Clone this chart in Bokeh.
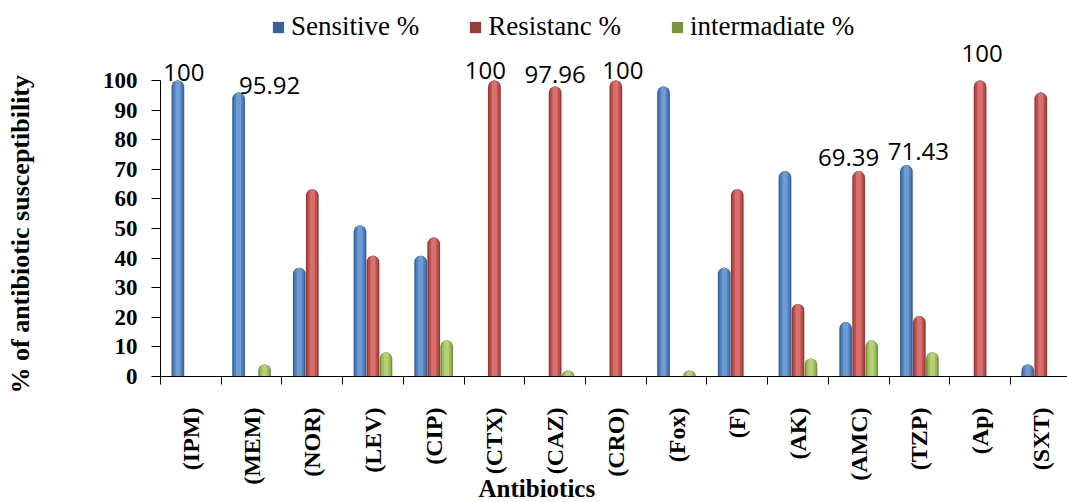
import numpy as np
from bokeh.plotting import figure
from bokeh.models import (ColumnDataSource, Range1d, FixedTicker, Legend, LegendItem,
                          Title, LinearAxis)
from bokeh.core.properties import value
from bokeh.embed import file_html
from bokeh.resources import INLINE

# ---------------- data ----------------
antibiotics = ["(IPM)", "(MEM)", "(NOR)", "(LEV)", "(CIP)", "(CTX)", "(CAZ)", "(CRO)",
               "(Fox)", "(F)", "(AK)", "(AMC)", "(TZP)", "(Ap)", "(SXT)"]
sensitive = [100, 95.92, 36.73, 51.02, 40.82, 0, 0, 0, 97.96, 36.73, 69.39, 18.37, 71.43, 0, 4.08]
resistant = [0, 0, 63.27, 40.82, 46.94, 100, 97.96, 100, 0, 63.27, 24.49, 69.39, 20.41, 100, 95.92]
intermediate = [0, 4.08, 0, 8.16, 12.24, 0, 2.04, 0, 2.04, 0, 6.12, 12.24, 8.16, 0, 0]
series_names = ["Sensitive %", "Resistanc %", "intermadiate %"]
y_ticks = [0, 10, 20, 30, 40, 50, 60, 70, 80, 90, 100]

# data labels: (category index, series index, text)
label_cat = [0, 1, 5, 6, 7, 11, 12, 13]
label_ser = [0, 0, 1, 1, 1, 1, 0, 1]
label_txt = ["100", "95.92", "100", "97.96", "100", "69.39", "71.43", "100"]

# ---------------- styles ----------------
label_dx = [6, 31, -9, 0, 7, -10, 12, 2]      # px
label_dy = [1, 1, -1, -3, -1, -5, -5, -18]    # px (negative = up)
base_cols = ["#4F81BD", "#C0504D", "#9BBB59"]
dark_cols = ["#3A629A", "#973B39", "#77933F"]
light_cols = ["#6E9BD3", "#D8716E", "#B4D175"]
offsets = [-0.214, 0.0, 0.214]
bar_w = 0.21
SERIF = "Liberation Serif"

p = figure(width=1067, height=502, output_backend="svg", toolbar_location=None,
           x_range=Range1d(0, 14.94), y_range=Range1d(0, 127.0),
           min_border_left=160, min_border_right=0, min_border_top=0, min_border_bottom=126,
           x_axis_location=None, y_axis_location=None)
p.outline_line_color = None
p.xgrid.visible = False
p.ygrid.visible = False
p.background_fill_color = "white"

# y axis (a blank axis label is used only as spacing in front of the title)
yax = LinearAxis(ticker=FixedTicker(ticks=y_ticks), bounds=(0, 100))
yax.major_label_text_font = SERIF
yax.major_label_text_font_style = "bold"
yax.major_label_text_font_size = "23px"
yax.major_label_text_color = "black"
yax.major_label_standoff = 14
yax.major_tick_in = 0
yax.major_tick_out = 9
yax.minor_tick_line_color = None
yax.axis_line_color = "black"
yax.major_tick_line_color = "black"
yax.axis_label = "\u00a0"
yax.axis_label_text_font_size = "2px"
yax.axis_label_standoff = 76
p.add_layout(yax, "left")

ytitle = Title(text="% of antibiotic susceptibility", align="left", offset=-17, standoff=-32,
               text_font=SERIF, text_font_style="bold", text_font_size="26px",
               text_color="black")
p.add_layout(ytitle, "left")

# x axis: labels at category centres, ticks at boundaries (minor ticks)
n = len(antibiotics)
centers = [i + 0.5 for i in range(n)]
bounds_t = [float(i) for i in range(n + 1)]
xax = LinearAxis(ticker=FixedTicker(ticks=centers, minor_ticks=bounds_t))
xax.major_label_overrides = {c: lab for c, lab in zip(centers, antibiotics)}
xax.major_label_orientation = np.pi / 2
xax.major_label_text_font = SERIF
xax.major_label_text_font_style = "bold"
xax.major_label_text_font_size = "24px"
xax.major_label_text_color = "black"
xax.major_label_standoff = 23
xax.major_tick_line_color = None
xax.major_tick_in = 0
xax.major_tick_out = 0
xax.minor_tick_in = 0
xax.minor_tick_out = 8
xax.minor_tick_line_color = "black"
xax.axis_line_color = "black"
p.add_layout(xax, "below")

xtitle = Title(text="Antibiotics", align="left", offset=318, standoff=-26,
               vertical_align="top",
               text_font=SERIF, text_font_style="bold", text_font_size="25px",
               text_color="black")
p.add_layout(xtitle, "below")

# bars
series = [sensitive, resistant, intermediate]
legend_items = []
for si, vals in enumerate(series):
    xs = [i + 0.5 + offsets[si] for i, v in enumerate(vals) if v > 0]
    ys = [v for v in vals if v > 0]
    src = ColumnDataSource(dict(x=xs, top=ys))
    r = p.vbar(x="x", top="top", bottom=0, width=bar_w, source=src,
               fill_color=dark_cols[si], line_color=None, border_radius=(7, 7, 0, 0))
    p.vbar(x="x", top="top", bottom=0, width=bar_w * 0.75, source=src,
           fill_color=base_cols[si], line_color=None, border_radius=(5, 5, 0, 0))
    p.vbar(x="x", top="top", bottom=0, width=bar_w * 0.4, source=src,
           fill_color=light_cols[si], line_color=None, border_radius=(3, 3, 0, 0))
    legend_items.append(LegendItem(label=series_names[si], renderers=[r]))

# data labels
lx = [label_cat[k] + 0.5 + offsets[label_ser[k]] for k in range(len(label_cat))]
ly = [series[label_ser[k]][label_cat[k]] for k in range(len(label_cat))]
lsrc = ColumnDataSource(dict(x=lx, y=ly, t=label_txt, dx=label_dx, dy=label_dy))
p.text(x="x", y="y", text="t", x_offset="dx", y_offset="dy", source=lsrc,
       text_font=value("Open Sans"), text_font_size="24px", text_color="black",
       text_align="center", text_baseline="bottom")

legend = Legend(items=legend_items, orientation="horizontal", location=(111, 334),
                label_text_font="Times New Roman", label_text_font_style="normal",
                label_text_font_size="27px",
                label_text_color="black", glyph_width=14, glyph_height=14,
                label_standoff=6, spacing=49, padding=2, margin=0,
                border_line_color=None, background_fill_alpha=0)
p.add_layout(legend, "center")

open("out.html", "w").write(file_html(p, INLINE))
